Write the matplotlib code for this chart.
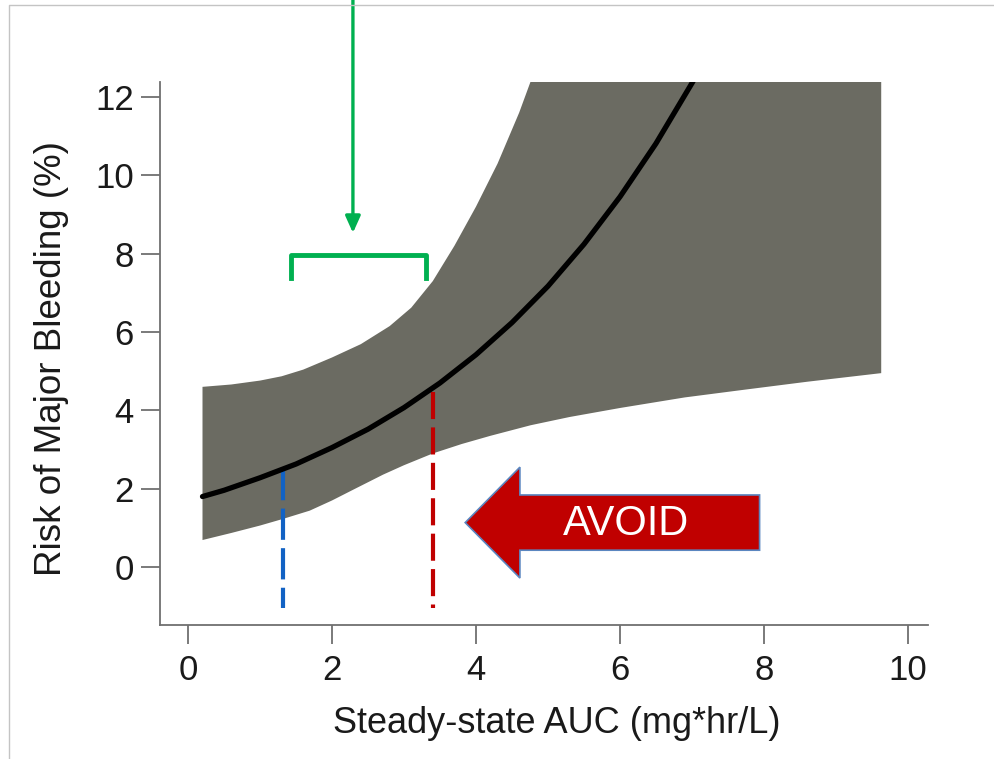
import numpy as np
import matplotlib
matplotlib.use("Agg")
import matplotlib.pyplot as plt
from matplotlib.patches import FancyArrow
from matplotlib.lines import Line2D

plt.rcParams['font.family'] = ['Liberation Sans', 'DejaVu Sans']

# fitted risk curve
auc = [0.2, 0.5, 1.0, 1.5, 2.0, 2.5, 3.0, 3.5, 4.0, 4.5, 5.0, 5.5, 6.0, 6.5, 7.0, 7.1]
risk = [1.80, 1.96, 2.28, 2.63, 3.05, 3.52, 4.07, 4.70, 5.42, 6.24, 7.17, 8.24, 9.45, 10.81, 12.35, 12.68]

# confidence band edges (upper edge runs off the top of the axes)
hi_x = [0.2, 0.6, 1.0, 1.3, 1.6, 2.0, 2.4, 2.8, 3.1, 3.4, 3.7, 4.0, 4.3, 4.6, 4.8, 5.0, 5.3, 9.63]
hi_y = [4.60, 4.66, 4.76, 4.87, 5.04, 5.35, 5.69, 6.15, 6.62, 7.30, 8.20, 9.20, 10.30, 11.60, 12.60, 13.60, 15.0, 30.0]
lo_x = [0.2, 0.6, 1.0, 1.32, 1.69, 2.0, 2.3, 2.71, 3.0, 3.4, 3.8, 4.2, 4.76, 5.3, 6.0, 6.9, 7.7, 8.6, 9.63]
lo_y = [0.69, 0.87, 1.06, 1.23, 1.44, 1.70, 1.98, 2.36, 2.60, 2.90, 3.14, 3.35, 3.62, 3.83, 4.06, 4.33, 4.52, 4.73, 4.95]

auc_low = 1.32    # blue marker
risk_low = 2.51
auc_high = 3.40   # red marker
risk_high = 4.46

xticks = [0, 2, 4, 6, 8, 10]
yticks = [0, 2, 4, 6, 8, 10, 12]

fig = plt.figure(figsize=(9.94, 7.59), dpi=100)
ax = fig.add_axes([0.161, 0.1765, 0.7726, 0.7154])

ax.fill(hi_x + lo_x[::-1], hi_y + lo_y[::-1], color='#6b6b62', lw=0, zorder=1)
ax.plot(auc, risk, color='black', lw=3.8, solid_capstyle='round', zorder=3)

ax.plot([auc_low, auc_low], [risk_low, -1.05], color='#1262c4', lw=3,
        dashes=(7.5, 2), zorder=2)
ax.plot([auc_high, auc_high], [risk_high, -1.05], color='#c00000', lw=3,
        dashes=(6.5, 2), zorder=2)

# AVOID arrow
arr = FancyArrow(7.94, 1.135, -4.09, 0, width=1.41, head_width=2.83,
                 head_length=0.76, length_includes_head=True,
                 facecolor='#c00000', edgecolor='#5a86c0', lw=1.2, zorder=4)
ax.add_patch(arr)
ax.text(6.08, 1.10, 'AVOID', color='white', fontsize=30, ha='center',
        va='center', zorder=5)

# green pointer and bracket
ax.annotate('', xy=(2.29, 8.53), xytext=(2.29, 14.6),
            arrowprops=dict(arrowstyle='-|>,head_width=0.45,head_length=1.0',
                            color='#00b050', lw=2.4, shrinkA=0, shrinkB=0),
            annotation_clip=False, zorder=5)
ax.add_line(Line2D([1.43, 1.43, 3.30, 3.30], [7.38, 7.97, 7.97, 7.38],
                   color='#00b050', lw=3.5, solid_joinstyle='round', zorder=5))

ax.set_xlim(-0.39, 10.28)
ax.set_ylim(-1.48, 12.38)
ax.set_xticks(xticks)
ax.set_yticks(yticks)
for s in ['top', 'right']:
    ax.spines[s].set_visible(False)
for s in ['left', 'bottom']:
    ax.spines[s].set_color('#707070')
    ax.spines[s].set_linewidth(1.3)
ax.tick_params(length=14, width=1.3, color='#707070', labelsize=25,
               labelcolor='#1a1a1a')
ax.tick_params(axis='x', pad=7)
ax.tick_params(axis='y', pad=5)

ax.set_xlabel('Steady-state AUC (mg*hr/L)', fontsize=26, color='#1a1a1a')
ax.set_ylabel('Risk of Major Bleeding (%)', fontsize=26.5, color='#1a1a1a')
ax.xaxis.set_label_coords(0.516, -0.15)
ax.yaxis.set_label_coords(-0.118, 0.49)

# light frame of the slide
fig.add_artist(Line2D([9/994, 9/994, 1.0], [0.0, 1 - 5/759, 1 - 5/759],
                      transform=fig.transFigure, color='#c4c4c4', lw=1))

fig.savefig('out.png', dpi=100)
